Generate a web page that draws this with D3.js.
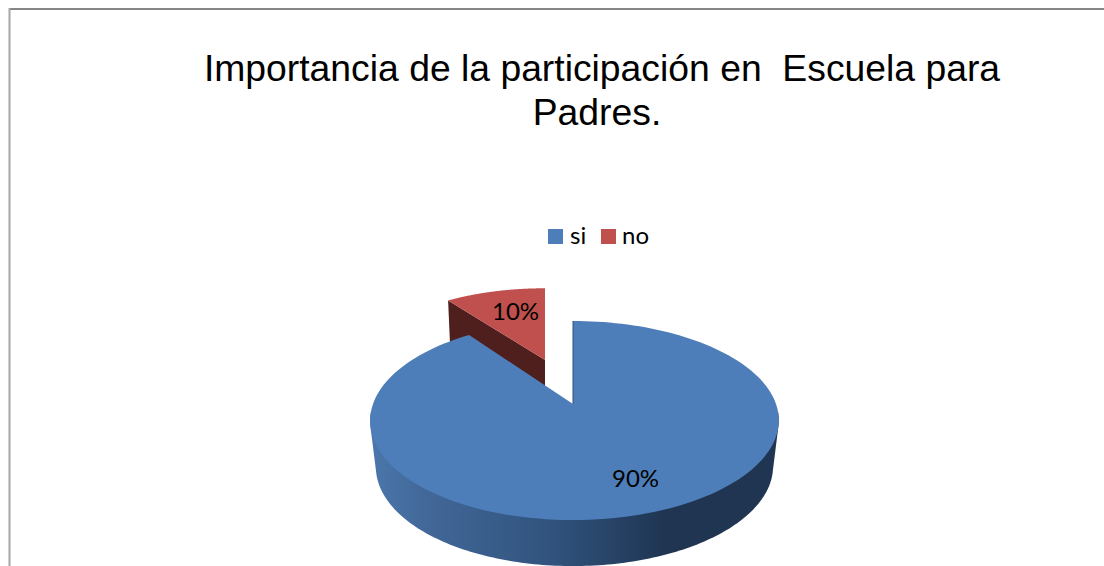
<!DOCTYPE html>
<html><head><meta charset="utf-8">
<script src="https://cdnjs.cloudflare.com/ajax/libs/d3/7.8.5/d3.min.js"></script>
<style>html,body{margin:0;padding:0;background:#fff;overflow:hidden}svg{display:block}</style>
</head><body><svg id="c" width="1104" height="566"></svg>
<script>
const categories = ["si", "no"];
const values = [90, 10];
const labels = ["90%", "10%"];
const titleLines = ["Importancia de la participación en  Escuela para", "Padres."];
const colors = ["#4e7eb9", "#c0504d"];
const wallColors = ["#1f3552", "#4f1f1d"];

const svg = d3.select("#c");
// frame
svg.append("line").attr("x1",9).attr("x2",1104).attr("y1",9).attr("y2",9).attr("stroke","#868686").attr("stroke-width",2);
svg.append("line").attr("x1",9.5).attr("x2",9.5).attr("y1",8).attr("y2",566).attr("stroke","#a6a6a6").attr("stroke-width",2);

// title
svg.selectAll("text.t").data(titleLines).join("text").attr("class","t")
  .attr("x",(d,i)=>i?597:602).attr("y",(d,i)=>81+i*44)
  .attr("text-anchor","middle").attr("font-family","'Liberation Sans'").attr("font-size",37.3)
  .attr("fill","#000").style("white-space","pre").text(d=>d);

// legend
const legX = [548, 601], legT = [570, 622];
svg.selectAll("rect.l").data(categories).join("rect").attr("class","l")
  .attr("x",(d,i)=>legX[i]).attr("y",229).attr("width",15).attr("height",15).attr("fill",(d,i)=>colors[i]);
svg.selectAll("text.l").data(categories).join("text").attr("class","l")
  .attr("x",(d,i)=>legT[i]).attr("y",244).attr("font-family","Lato").attr("font-size",24).attr("fill","#000").text(d=>d);

// perspective disc projection
const ax = 573, ay = 404, B = 201.5, A = 96.8, k = -0.166, depth = 46, shrink = 0.972;
function proj(u, v, dz, sx) {
  const w = 1 + k * v, s = dz ? shrink : 1;
  return [ax + (sx || 0) + 1.5 * u * u + B * s * u / w, ay + A * v / w + (dz || 0)];
}
const pie = d3.pie().sort(null).startAngle(0).endAngle(2 * Math.PI);
const arcs = pie(values);
const line = d3.line();
const N = 160;
const angs = (a, b) => d3.range(N + 1).map(i => a + (b - a) * i / N);
const disc = (t, r, oy) => [r * Math.sin(t), oy - r * Math.cos(t)];
const defs = svg.append("defs");
const grad = defs.append("linearGradient").attr("id","wall").attr("gradientUnits","userSpaceOnUse")
  .attr("x1",372).attr("x2",779).attr("y1",0).attr("y2",0);
[[0,"#4a77ab"],[0.12,"#43699a"],[0.45,"#30527c"],[0.72,"#1f3552"],[1,"#1f3552"]].forEach(s=>grad.append("stop").attr("offset",s[0]).attr("stop-color",s[1]));

// exploded slice "no": wall then top
const no = arcs[1], si = arcs[0];
const ey = -0.4916, sx = -28;
const apexNo = proj(0, ey, 0, sx), edgeNo = proj(...disc(no.startAngle, 1, ey), 0, sx);
svg.append("path").attr("fill",wallColors[1])
  .attr("d", line([apexNo, edgeNo, [edgeNo[0] + 2, edgeNo[1] + depth], [apexNo[0], apexNo[1] + depth]]) + "Z");
svg.append("path").attr("fill",colors[1])
  .attr("d", line([apexNo, ...angs(no.startAngle, no.endAngle).map(t => proj(...disc(t, 1, ey), 0, sx))]) + "Z");

// main slice "si": outer wall (convex hull of the front of top and bottom rims) then top
const rim = angs(95 * Math.PI / 180, 265 * Math.PI / 180);
const hull = d3.polygonHull([...rim.map(t => proj(...disc(t, 1, 0))), ...rim.map(t => proj(...disc(t, 1, 0), depth))]);
svg.append("path").attr("fill","url(#wall)").attr("d", line(hull) + "Z");
svg.append("path").attr("fill",colors[0])
  .attr("d", line([proj(0, 0), ...angs(si.startAngle, si.endAngle).map(t => proj(...disc(t, 1, 0)))]) + "Z");
svg.append("path").attr("fill","none").attr("stroke","#2f4f78").attr("stroke-width",1)
  .attr("d", line([proj(0, 0), proj(...disc(si.startAngle, 1, 0))]));

// data labels
const labelPos = [[612, 487], [492, 320]];
svg.selectAll("text.d").data(labels).join("text").attr("class","d")
  .attr("x",(d,i)=>labelPos[i][0]).attr("y",(d,i)=>labelPos[i][1])
  .attr("font-family","Lato").attr("font-size",24).attr("fill","#000").text(d=>d);
</script></body></html>
